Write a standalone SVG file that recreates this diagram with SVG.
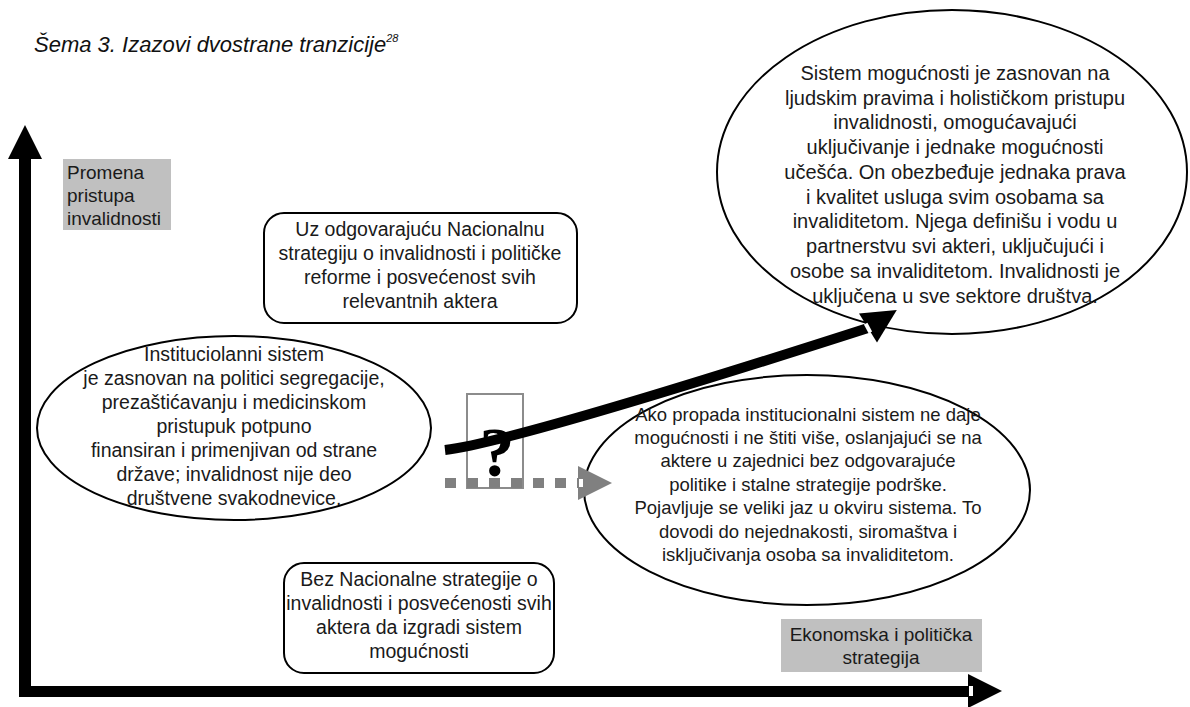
<svg xmlns="http://www.w3.org/2000/svg" width="1190" height="707" viewBox="0 0 1190 707">
<style>
.t{font-family:"Liberation Sans",Arial,sans-serif;fill:#1a1a1a;text-anchor:middle}
.shape{fill:#fff;stroke:#000;stroke-width:2}
.lbl{fill:#c0c0c0}
</style>
<rect width="1190" height="707" fill="#fff"/>
<text x="34" y="52" font-family="Liberation Sans, Arial, sans-serif" font-style="italic" font-size="22" fill="#111">Šema 3. Izazovi dvostrane tranzicije<tspan dy="-10" font-size="11">28</tspan></text>

<g id="axes">
<rect x="19" y="157" width="12" height="540" fill="#000"/>
<polygon points="8,159 25,125 42,159" fill="#000"/>
<rect x="19" y="686" width="954" height="11" fill="#000"/>
<polygon points="968,674 1002,691 968,708" fill="#000"/>
<rect x="969" y="686" width="4" height="10" fill="#fff"/>
</g>

<g id="label-y">
<rect class="lbl" x="63" y="159" width="108" height="71"/>
<text class="t" style="text-anchor:start" font-size="19" x="67" y="179">Promena</text>
<text class="t" style="text-anchor:start" font-size="19" x="67" y="202">pristupa</text>
<text class="t" style="text-anchor:start" font-size="19" x="67" y="225">invalidnosti</text>
</g>

<g id="label-x">
<rect class="lbl" x="781" y="619" width="201" height="53"/>
<text class="t" font-size="19" x="881" y="641">Ekonomska i politička</text>
<text class="t" font-size="19" x="881" y="664">strategija</text>
</g>

<g id="node-top">
<ellipse class="shape" cx="952" cy="172" rx="235" ry="162"/>
<g class="t" font-size="20">
<text x="955" y="80">Sistem mogućnosti je zasnovan na</text>
<text x="955" y="105">ljudskim pravima i holističkom pristupu</text>
<text x="955" y="129">invalidnosti, omogućavajući</text>
<text x="955" y="154">uključivanje i jednake mogućnosti</text>
<text x="955" y="179">učešća. On obezbeđuje jednaka prava</text>
<text x="955" y="204">i kvalitet usluga svim osobama sa</text>
<text x="955" y="228">invaliditetom. Njega definišu i vodu u</text>
<text x="955" y="253">partnerstvu svi akteri, uključujući i</text>
<text x="955" y="278">osobe sa invaliditetom. Invalidnosti je</text>
<text x="955" y="303">uključena u sve sektore društva.</text>
</g>
</g>

<g id="node-mid">
<rect class="shape" x="264" y="213" width="313" height="110" rx="20"/>
<g class="t" font-size="19.5">
<text x="420" y="236">Uz odgovarajuću Nacionalnu</text>
<text x="420" y="260">strategiju o invalidnosti i političke</text>
<text x="420" y="284">reforme i posvećenost svih</text>
<text x="420" y="308">relevantnih aktera</text>
</g>
</g>

<g id="node-left">
<ellipse class="shape" cx="234" cy="428" rx="197" ry="92"/>
<g class="t" font-size="19.5">
<text x="234" y="361">Instituciolanni sistem</text>
<text x="234" y="385">je zasnovan na politici segregacije,</text>
<text x="234" y="409">prezaštićavanju i medicinskom</text>
<text x="234" y="433">pristupuk potpuno</text>
<text x="234" y="457">finansiran i primenjivan od strane</text>
<text x="234" y="481">države; invalidnost nije deo</text>
<text x="234" y="505">društvene svakodnevice.</text>
</g>
</g>

<g id="node-right">
<ellipse class="shape" cx="807" cy="490" rx="223" ry="115"/>
<g class="t" font-size="18.5">
<text x="808" y="421">Ako propada institucionalni sistem ne daje</text>
<text x="808" y="444">mogućnosti i ne štiti više, oslanjajući se na</text>
<text x="808" y="467">aktere u zajednici bez odgovarajuće</text>
<text x="808" y="491">politike i stalne strategije podrške.</text>
<text x="808" y="514">Pojavljuje se veliki jaz u okviru sistema. To</text>
<text x="808" y="538">dovodi do nejednakosti, siromaštva i</text>
<text x="808" y="561">isključivanja osoba sa invaliditetom.</text>
</g>
</g>

<g id="node-bottom">
<rect class="shape" x="284" y="563" width="270" height="110" rx="20"/>
<g class="t" font-size="19.5">
<text x="419" y="586">Bez Nacionalne strategije o</text>
<text x="419" y="610">invalidnosti i posvećenosti svih</text>
<text x="419" y="634">aktera da izgradi sistem</text>
<text x="419" y="658">mogućnosti</text>
</g>
</g>

<g id="question">
<rect x="467" y="394" width="56" height="94" fill="none" stroke="#8c8c8c" stroke-width="2"/>
<text x="497" y="476" font-family="Liberation Serif, 'Times New Roman', serif" font-weight="bold" font-size="70" text-anchor="middle" fill="#000">?</text>
</g>

<g id="connectors">
<path d="M445,450 C500,444 700,382 868,328" fill="none" stroke="#000" stroke-width="10"/>
<polygon points="877,342.4 896.8,310 859,313.6" fill="#000"/>
<rect x="866" y="323" width="4" height="10" fill="#fff" transform="rotate(-28 868 328)"/>
<line x1="445" y1="483" x2="578" y2="483" stroke="#808080" stroke-width="10" stroke-dasharray="11 11"/>
<polygon points="578,466 612,483 578,500" fill="#808080"/>
<rect x="579" y="479" width="4" height="8" fill="#fff"/>
</g>
</svg>
